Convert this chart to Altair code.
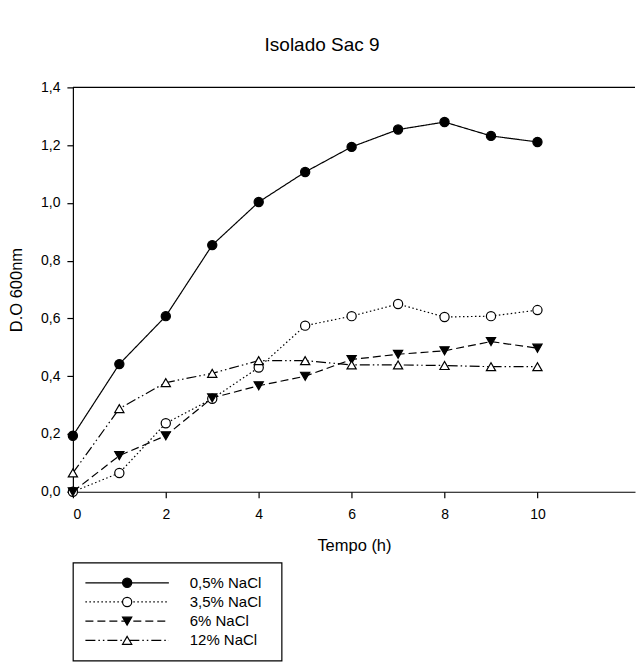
import altair as alt
import pandas as pd

hours = [0, 1, 2, 3, 4, 5, 6, 7, 8, 9, 10]
series = ["0,5% NaCl", "3,5% NaCl", "6% NaCl", "12% NaCl"]
v05 = [0.194, 0.442, 0.608, 0.854, 1.003, 1.107, 1.194, 1.254, 1.28, 1.232, 1.211]
v35 = [0.0, 0.065, 0.237, 0.322, 0.43, 0.575, 0.608, 0.65, 0.605, 0.608, 0.629]
v6 = [0.0, 0.125, 0.194, 0.325, 0.367, 0.40, 0.458, 0.476, 0.488, 0.52, 0.497]
v12 = [0.065, 0.288, 0.378, 0.41, 0.454, 0.454, 0.439, 0.439, 0.437, 0.433, 0.433]
x_ticks = [0, 2, 4, 6, 8, 10]
y_ticks = [0.0, 0.2, 0.4, 0.6, 0.8, 1.0, 1.2, 1.4]

dashes = [[1, 0], [1.5, 2.5], [8, 4], [10, 3, 1.5, 3, 1.5, 3]]
shapes = ["circle", "circle", "triangle-down", "triangle-up"]
fills = ["black", "white", "black", "white"]

rows = []
for name, vals in zip(series, [v05, v35, v6, v12]):
    for h, v in zip(hours, vals):
        rows.append({"Tempo": h, "DO": v, "serie": name})
df = pd.DataFrame(rows)

FONT = "Liberation Sans"
ax_style = dict(labelFont=FONT, titleFont=FONT, labelFontSize=14, titleFontSize=16.5,
                titleFontWeight="normal", labelColor="black", titleColor="black",
                domainColor="black", tickColor="black", tickSize=6,
                domainWidth=1.2, tickWidth=1.2, grid=False)
xs = alt.Scale(domain=[0, 12.1], nice=False)
ys = alt.Scale(domain=[0, 1.4], nice=False)
x_enc = alt.X("Tempo:Q", scale=xs,
              axis=alt.Axis(values=x_ticks, title="Tempo (h)", labelPadding=10,
                            titlePadding=16, **ax_style))
y_axis = alt.Axis(values=y_ticks, title="D.O 600nm", labelPadding=7, titlePadding=16,
                  labelExpr="replace(format(datum.value, '.1f'), '.', ',')", **ax_style)
y_enc = alt.Y("DO:Q", scale=ys, axis=y_axis)
dash_scale = alt.Scale(domain=series, range=dashes)
shape_scale = alt.Scale(domain=series, range=shapes)
fill_scale = alt.Scale(domain=series, range=fills)

lines = alt.Chart(df).mark_line(color="black", strokeWidth=1.2).encode(
    x=x_enc, y=y_enc,
    strokeDash=alt.StrokeDash("serie:N", scale=dash_scale, legend=None),
    detail="serie:N",
)
points = alt.Chart(df).mark_point(stroke="black", strokeWidth=1.2, size=85, opacity=1).encode(
    x=x_enc, y=y_enc,
    shape=alt.Shape("serie:N", scale=shape_scale, legend=None),
    fill=alt.Fill("serie:N", scale=fill_scale, legend=None),
)
# top frame line at the top of the y range
top_df = pd.DataFrame({"DO": [max(y_ticks)]})
top_line = alt.Chart(top_df).mark_rule(color="black", strokeWidth=1.2).encode(y=y_enc)

main = alt.layer(lines, points, top_line).properties(width=563, height=405)

# legend panel
leg = pd.DataFrame({
    "serie": series,
    "row": [0, 1, 2, 3],
    "x1": [6, 6, 6, 6],
    "x2": [46, 46, 46, 46],
    "xm": [26, 26, 26, 26],
    "xt": [56, 56, 56, 56],
})
lx = alt.Scale(domain=[0, 100], nice=False)
ly = alt.Scale(domain=[-1.05, 4.05], nice=False, reverse=True)
leg_rule = alt.Chart(leg).mark_rule(color="black", strokeWidth=1.2).encode(
    x=alt.X("x1:Q", scale=lx, axis=None), x2="x2:Q",
    y=alt.Y("row:Q", scale=ly, axis=None),
    strokeDash=alt.StrokeDash("serie:N", scale=dash_scale, legend=None),
)
leg_pts = alt.Chart(leg).mark_point(stroke="black", strokeWidth=1.2, size=85, opacity=1).encode(
    x=alt.X("xm:Q", scale=lx, axis=None),
    y=alt.Y("row:Q", scale=ly, axis=None),
    shape=alt.Shape("serie:N", scale=shape_scale, legend=None),
    fill=alt.Fill("serie:N", scale=fill_scale, legend=None),
)
leg_txt = alt.Chart(leg).mark_text(align="left", baseline="middle", font=FONT, fontSize=15, color="black").encode(
    x=alt.X("xt:Q", scale=lx, axis=None),
    y=alt.Y("row:Q", scale=ly, axis=None),
    text="serie:N",
)
legend_panel = alt.layer(leg_rule, leg_pts, leg_txt).properties(
    width=209, height=98, view=alt.ViewBackground(stroke="black", strokeWidth=1.2)
)

chart = alt.vconcat(main, legend_panel, spacing=7).properties(
    title=alt.TitleParams("Isolado Sac 9", font=FONT, fontSize=19, fontWeight="normal",
                          color="black", anchor="middle", offset=25),
    padding={"left": 8, "top": 36, "right": 0, "bottom": 0},
).configure_view(stroke=None)

chart.save("out.html", embed_options={"renderer": "svg", "actions": False})
